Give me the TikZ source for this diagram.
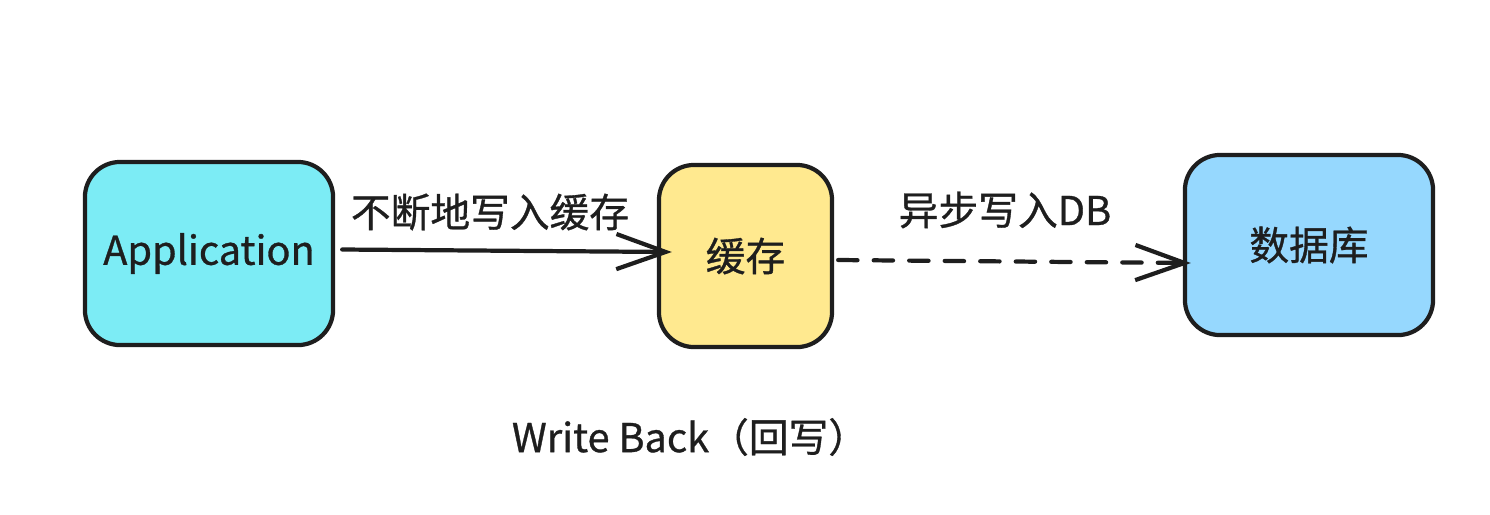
\documentclass[tikz,border=0pt]{standalone}
\usepackage{fontspec}
\setmainfont{Noto Sans CJK SC}[FakeBold=0.8]
\usetikzlibrary{arrows.meta}
\definecolor{appfill}{HTML}{7CECF5}
\definecolor{cachefill}{HTML}{FFE98F}
\definecolor{dbfill}{HTML}{96D8FE}
\definecolor{ink}{HTML}{1E1E1E}
\tikzset{
  box/.style={draw=ink, line width=1.2pt, rounded corners=10pt, align=center,
    font=\fontsize{11.3}{13}\selectfont, text=ink},
  lbl/.style={font=\fontsize{11.3}{13}\selectfont, text=ink, inner sep=0pt},
  arr/.style={draw=ink, line width=1.2pt, line cap=round,
    -{Straight Barb[length=14pt, width=10pt, line width=1.2pt]}},
}
\begin{document}
\begin{tikzpicture}[x=0.01cm, y=-0.01cm]
\useasboundingbox (0,0) rectangle (1490,514);
\node[box, fill=appfill, minimum width=2.48cm, minimum height=1.83cm] (app) at (209,253.5) {Application};
\node[box, fill=cachefill, minimum width=1.73cm, minimum height=1.82cm] (cache) at (745.5,256) {缓存};
\node[box, fill=dbfill, minimum width=2.48cm, minimum height=1.80cm] (db) at (1309,245) {数据库};
\draw[arr] ([shift={(0.07cm,0.04cm)}]app.east) -- ([shift={(0.15cm,0.04cm)}]cache.west);
\draw[arr, dash pattern=on 5.5pt off 4.6pt] ([shift={(0.04cm,-0.04cm)}]cache.east) -- ([shift={(0.08cm,-0.18cm)}]db.west);
\node[lbl] (l1) at (490,212) {不断地写入缓存};
\node[lbl] (l2) at (1005,210) {异步写入DB};
\node[lbl] (title) at (690,437) {Write Back（回写）};
\end{tikzpicture}
\end{document}
